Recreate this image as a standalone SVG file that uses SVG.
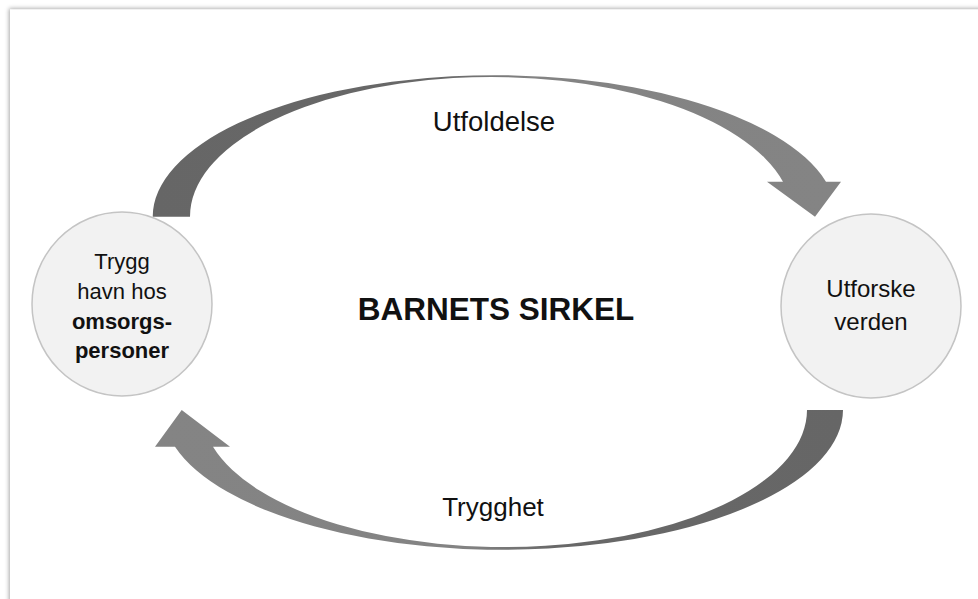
<svg xmlns="http://www.w3.org/2000/svg" width="978" height="599" viewBox="0 0 978 599">
  <defs>
    <filter id="cardShadow" x="-5%" y="-5%" width="110%" height="110%">
      <feDropShadow dx="-1" dy="-1" stdDeviation="2" flood-color="#000" flood-opacity="0.35"/>
    </filter>
    <linearGradient id="gTop" gradientUnits="userSpaceOnUse" x1="150" y1="0" x2="842" y2="0">
      <stop offset="0" stop-color="#666666"/>
      <stop offset="0.42" stop-color="#686868"/>
      <stop offset="0.55" stop-color="#838383"/>
      <stop offset="1" stop-color="#848484"/>
    </linearGradient>
    <linearGradient id="gBottom" gradientUnits="userSpaceOnUse" x1="845" y1="0" x2="153" y2="0">
      <stop offset="0" stop-color="#666666"/>
      <stop offset="0.42" stop-color="#686868"/>
      <stop offset="0.55" stop-color="#838383"/>
      <stop offset="1" stop-color="#848484"/>
    </linearGradient>
    <style>
      .node { fill: #f2f2f2; stroke: #c4c4c4; stroke-width: 1.5; }
      .t { font-family: "Liberation Sans", Arial, sans-serif; fill: #111; text-anchor: middle; }
      .b { font-weight: bold; }
    </style>
  </defs>

  <rect x="0" y="0" width="978" height="599" fill="#ffffff"/>
  <rect id="card" x="10" y="9.5" width="1000" height="620" fill="#ffffff" filter="url(#cardShadow)"/>

  <g id="connectors">
    <path id="arrow-utfoldelse" fill="url(#gTop)" d="M152.7,216.7 A342,141.7 0 0 1 826,181.7 L841,181.7 L815,216.7 L767,181.7 L783,181.7 A301.3,139.7 0 0 0 190,216.7 Z"/>
    <path id="arrow-trygghet" fill="url(#gBottom)" d="M843,410 A340,140 0 0 1 175,446.7 L155,446.7 L181.7,410 L230,446.7 L213,446.7 A302.5,137 0 0 0 807,410 Z"/>
    <text class="t" x="494" y="131" font-size="27.5">Utfoldelse</text>
    <text class="t" x="493" y="516" font-size="26">Trygghet</text>
  </g>

  <g id="node-trygg-havn">
    <ellipse class="node" cx="122" cy="304" rx="90" ry="92"/>
    <text class="t" x="122" y="269" font-size="22">Trygg</text>
    <text class="t" x="122" y="299" font-size="22">havn hos</text>
    <text class="t b" x="122" y="329" font-size="22">omsorgs-</text>
    <text class="t b" x="122" y="358" font-size="22">personer</text>
  </g>

  <g id="node-utforske">
    <ellipse class="node" cx="871" cy="306" rx="90" ry="92"/>
    <text class="t" x="871" y="297" font-size="24">Utforske</text>
    <text class="t" x="871" y="330" font-size="24">verden</text>
  </g>

  <g id="title">
    <text class="t b" x="496" y="320" font-size="31.5">BARNETS SIRKEL</text>
  </g>
</svg>
